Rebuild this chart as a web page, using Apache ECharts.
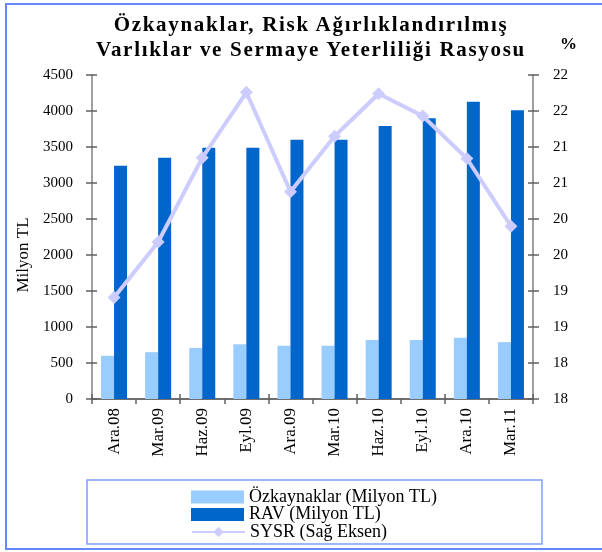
<!DOCTYPE html>
<html><head><meta charset="utf-8">
<script src="https://cdn.jsdelivr.net/npm/echarts@6/dist/echarts.min.js"></script>
<style>
html,body{margin:0;padding:0;background:#fff}
#wrap{position:relative;width:602px;height:552px}
#c{width:602px;height:552px}
#title{position:absolute;left:0;width:622px;top:12px;text-align:center;font:bold 21px "Liberation Serif","DejaVu Serif",serif;letter-spacing:1.7px;line-height:25px;color:#000;pointer-events:none}
</style>
</head><body><div id="wrap"><div id="c"></div><div id="title">Özkaynaklar, Risk Ağırlıklandırılmış<br>Varlıklar ve Sermaye Yeterliliği Rasyosu</div></div>
<script>
var categories = ['Ara.08','Mar.09','Haz.09','Eyl.09','Ara.09','Mar.10','Haz.10','Eyl.10','Ara.10','Mar.11'];
var ozkaynaklar = [600, 650, 710, 760, 740, 740, 820, 820, 850, 790];
var rav = [3240, 3350, 3490, 3490, 3600, 3600, 3790, 3900, 4130, 4010];
var sysr = [18.91, 19.68, 20.85, 21.76, 20.38, 21.15, 21.74, 21.43, 20.84, 19.90];
var leftTicks = [0, 4500, 500];
var rightTicks = [17.5, 22, 0.5];
var seriesNames = ['Özkaynaklar (Milyon TL)', 'RAV (Milyon TL)', 'SYSR (Sağ Eksen)'];

var F = '"Liberation Serif", "DejaVu Serif", serif';
var chart = echarts.init(document.getElementById('c'));
var tickStyle = {color: '#606060', width: 1.5};
var lab = {fontFamily: F, fontSize: 15, color: '#000'};
function legendAt(name, top, icon) {
  var item = {name: name};
  if (icon) item.icon = icon;
  return {orient: 'vertical', left: 191, top: top, itemWidth: 53, itemHeight: 13, padding: 0,
    textStyle: {fontFamily: F, fontSize: 18, color: '#000', padding: [0, 0, 3, 0]}, data: [item]};
}
chart.setOption({
  animation: false,
  graphic: [
    {type: 'rect', shape: {x: 6, y: 4, width: 620, height: 545}, style: {fill: 'none', stroke: '#6688ff', lineWidth: 2}},
    {type: 'rect', shape: {x: 87, y: 480, width: 455, height: 64}, style: {fill: 'none', stroke: '#7f9cff', lineWidth: 1.5}},
    {type: 'text', left: 560, top: 36, style: {text: '%', font: 'bold 17px ' + F, fill: '#000'}},
    {type: 'text', x: 24, y: 255, rotation: Math.PI / 2,
     style: {text: 'Milyon TL', font: '17px ' + F, fill: '#000', align: 'center', verticalAlign: 'middle'}}
  ],
  legend: [legendAt(seriesNames[0], 488, 'rect'), legendAt(seriesNames[1], 505.5, 'rect'), legendAt(seriesNames[2], 523)],
  grid: {left: 92, right: 69, top: 75, bottom: 153, containLabel: false},
  xAxis: [{
    type: 'category', data: categories, boundaryGap: true,
    axisLine: {show: true, lineStyle: {color: '#404040', width: 1.5}},
    axisTick: {show: true, length: 5, lineStyle: tickStyle},
    axisLabel: {rotate: 90, fontFamily: F, fontSize: 17, color: '#000', margin: 9},
    splitLine: {show: false}
  }, {
    type: 'category', data: categories, position: 'bottom',
    axisLine: {show: false},
    axisTick: {show: true, inside: true, length: 5, lineStyle: tickStyle},
    axisLabel: {show: false}, splitLine: {show: false}
  }],
  yAxis: [{
    type: 'value', min: leftTicks[0], max: leftTicks[1], interval: leftTicks[2], position: 'left',
    axisLine: {show: true, lineStyle: {color: '#808080', width: 1.5}},
    axisTick: {show: true, length: 6, lineStyle: tickStyle},
    axisLabel: Object.assign({margin: 19, formatter: function (v) { return String(v); }}, lab),
    splitLine: {show: false}
  }, {
    type: 'value', min: rightTicks[0], max: rightTicks[1], interval: rightTicks[2], position: 'right',
    axisLine: {show: true, lineStyle: {color: '#808080', width: 1.5}},
    axisTick: {show: true, length: 6, lineStyle: tickStyle},
    axisLabel: Object.assign({margin: 20, formatter: function (v) { return String(Math.round(v)); }}, lab),
    splitLine: {show: false}
  }, {
    type: 'value', min: leftTicks[0], max: leftTicks[1], interval: leftTicks[2], position: 'left',
    axisLine: {show: false}, axisTick: {show: true, inside: true, length: 5, lineStyle: tickStyle},
    axisLabel: {show: false}, splitLine: {show: false}
  }, {
    type: 'value', min: rightTicks[0], max: rightTicks[1], interval: rightTicks[2], position: 'right',
    axisLine: {show: false}, axisTick: {show: true, inside: true, length: 5, lineStyle: tickStyle},
    axisLabel: {show: false}, splitLine: {show: false}
  }],
  series: [
    {name: seriesNames[0], type: 'bar', data: ozkaynaklar, barWidth: 13, barGap: '0%',
     itemStyle: {color: '#99ccff'}, z: 2},
    {name: seriesNames[1], type: 'bar', data: rav, barWidth: 13, barGap: '0%',
     itemStyle: {color: '#0066cc'}, z: 2},
    {name: seriesNames[2], type: 'line', yAxisIndex: 1, data: sysr, symbol: 'diamond', symbolSize: 13,
     lineStyle: {color: '#ccccff', width: 4}, itemStyle: {color: '#ccccff'}, z: 5}
  ]
});
</script></body></html>
